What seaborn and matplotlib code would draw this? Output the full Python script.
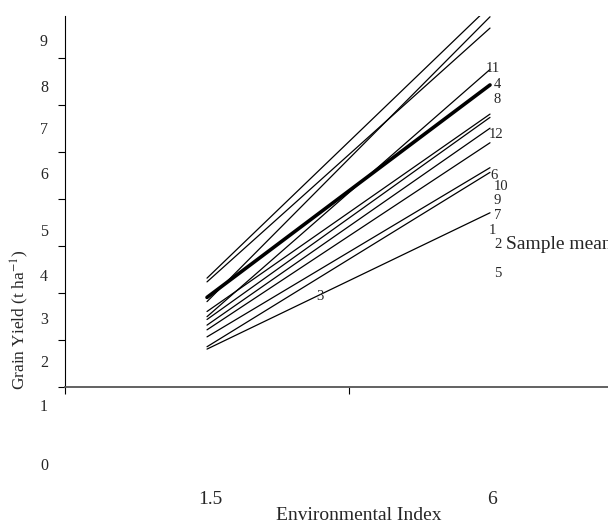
import numpy as np
import pandas as pd
import matplotlib
matplotlib.use("Agg")
import matplotlib.pyplot as plt
import seaborn as sns

# =========================================
#   DATA
# =========================================

# environmental index at both ends of each response line
env_index = [1.5, 6.0]

# grain yield (t/ha) of each genotype line at the low / high end
line_names = ["a", "b", "c", "d", "e", "f", "g", "h", "i", "j", "k"]
yield_low = [4.31, 4.23, 3.81, 3.49, 3.60, 3.43, 3.31, 3.21, 3.06, 2.85, 2.80]
yield_high = [10.10, 9.63, 9.87, 8.75, 7.80, 7.73, 7.50, 7.19, 6.66, 6.56, 5.70]

# sample mean line
mean_low = 3.90
mean_high = 8.42

# genotype numbers as they sit on the chart
line_labels = ["11", "4", "8", "12", "6", "10", "9", "7", "1", "2", "5", "3"]
label_x = [6.05, 6.12, 6.12, 6.10, 6.07, 6.18, 6.12, 6.12, 6.04, 6.12, 6.12, 3.29]
label_y = [8.76, 8.42, 8.12, 7.36, 6.49, 6.26, 5.96, 5.65, 5.33, 5.02, 4.40, 3.92]

# y tick labels (they sit off the tick marks in the original)
ytick_text = ["9", "8", "7", "6", "5", "4", "3", "2", "1", "0"]
ytick_text_y = [9.34, 8.36, 7.46, 6.50, 5.30, 4.34, 3.42, 2.50, 1.57, 0.31]

# =========================================
#   BUILD LONG TABLE FOR SEABORN
# =========================================

rows = []
for name, lo, hi in zip(line_names, yield_low, yield_high):
    rows.append({"line": name, "ei": env_index[0], "yield": lo})
    rows.append({"line": name, "ei": env_index[1], "yield": hi})
df = pd.DataFrame(rows)

mean_df = pd.DataFrame({"ei": env_index, "yield": [mean_low, mean_high]})

# =========================================
#   PLOT
# =========================================

sns.set_style("ticks")
plt.rcParams["font.family"] = ["Liberation Serif", "DejaVu Serif"]
plt.rcParams["mathtext.fontset"] = "stix"

W, H = 608, 523
fig = plt.figure(figsize=(W / 100, H / 100), dpi=100)
ax = fig.add_axes([65 / W, 1 - 386.7 / H, (W - 65) / W, (386.7 - 16) / H])

sns.lineplot(data=df, x="ei", y="yield", units="line", estimator=None,
             color="black", linewidth=0.9, ax=ax)
sns.lineplot(data=mean_df, x="ei", y="yield", color="black",
             linewidth=2.6, ax=ax)

ax.set_xlim(-0.758, 7.876)
ax.set_ylim(2, 9.887)
ax.set_xticks([-0.758, 3.758])
ax.set_xticklabels([])
ax.set_yticks(range(2, 10))
ax.set_yticklabels([])
ax.set_xlabel("")
ax.set_ylabel("")
ax.tick_params(direction="out", length=5, width=0.8, color="black")

sns.despine(ax=ax)
ax.spines["left"].set_color("black")
ax.spines["left"].set_linewidth(0.8)
ax.spines["bottom"].set_color("#555555")
ax.spines["bottom"].set_linewidth(1.3)

# genotype numbers
for lab, lx, ly in zip(line_labels, label_x, label_y):
    ax.text(lx, ly, lab, fontsize=10.5, ha="center", va="center", clip_on=False)

# legend text runs off the right edge, as in the original
ax.text(6.254, 5.015, "Sample mean", fontsize=14, ha="left", va="center",
        clip_on=False)

# y tick labels, placed as in the original
for t, ty in zip(ytick_text, ytick_text_y):
    ax.text(-0.0387, ty, t, fontsize=11.5, ha="center", va="center",
            transform=ax.get_yaxis_transform(), clip_on=False)

# x tick labels and axis titles
fig.text(210 / W, 1 - 499.3 / H, "1.5", fontsize=14, ha="center", va="center")
fig.text(491.7 / W, 1 - 499.3 / H, "6", fontsize=14, ha="center", va="center")
fig.text(358.3 / W, 1 - 515 / H, "Environmental Index", fontsize=14,
         ha="center", va="center")
fig.text(20 / W, 1 - 320 / H, "Grain Yield (t ha$^{-1}$)", fontsize=12.5,
         ha="center", va="center", rotation=90)

fig.savefig("out.png", dpi=100)
